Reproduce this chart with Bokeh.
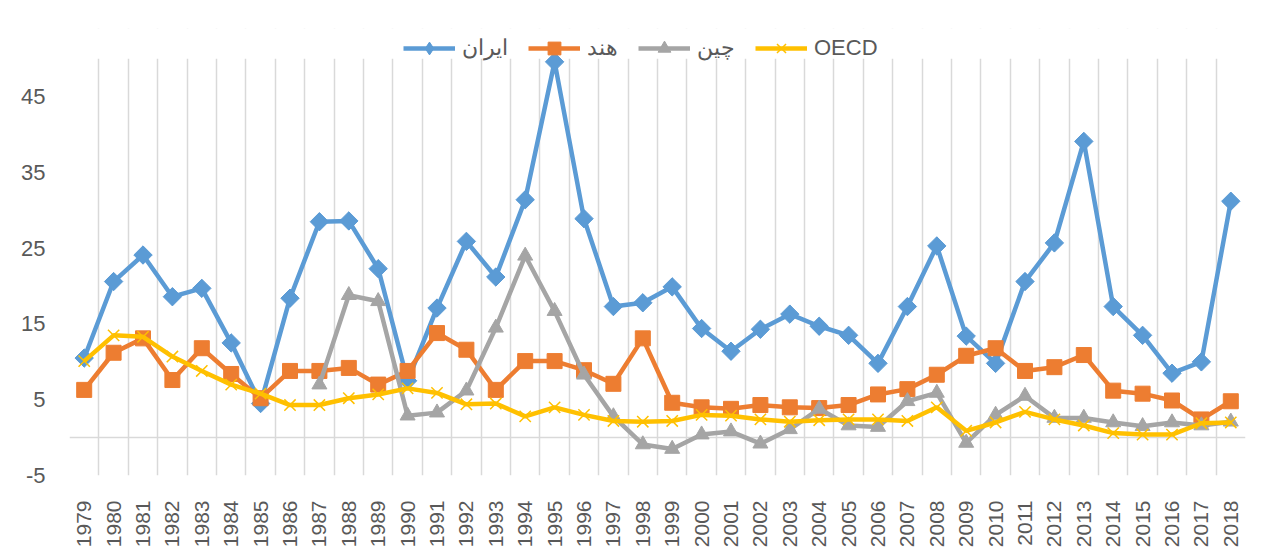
import math
from bokeh.plotting import figure
from bokeh.models import (FixedTicker, Span, Legend, LegendItem, Range1d,
                          BoxAnnotation)
from bokeh.embed import file_html
from bokeh.resources import INLINE

years = list(range(1979, 2019))
iran = [10.5, 20.6, 24.1, 18.6, 19.7, 12.5, 4.5, 18.4, 28.5, 28.6,
        22.3, 7.5, 17.1, 25.9, 21.2, 31.4, 49.6, 28.9, 17.3, 17.8,
        19.9, 14.4, 11.4, 14.3, 16.3, 14.7, 13.5, 9.8, 17.3, 25.3,
        13.4, 9.8, 20.6, 25.7, 39.1, 17.3, 13.5, 8.5, 10.0, 31.2]
india = [6.3, 11.2, 13.1, 7.6, 11.8, 8.4, 5.2, 8.8, 8.8, 9.2,
         7.0, 8.8, 13.8, 11.6, 6.3, 10.1, 10.1, 8.9, 7.1, 13.1,
         4.6, 4.0, 3.8, 4.3, 4.0, 3.9, 4.3, 5.7, 6.4, 8.3,
         10.8, 11.8, 8.8, 9.3, 10.9, 6.2, 5.8, 4.9, 2.4, 4.8]
china_years = list(range(1987, 2019))
china = [7.0, 18.8, 18.0, 2.9, 3.3, 6.2, 14.5, 24.0, 16.7, 8.3,
         2.8, -0.9, -1.5, 0.4, 0.8, -0.8, 1.1, 3.8, 1.6, 1.4,
         4.8, 5.9, -0.7, 3.0, 5.5, 2.6, 2.6, 2.0, 1.5, 2.0, 1.6, 2.1]
oecd = [10.1, 13.5, 13.3, 10.7, 8.8, 7.0, 5.8, 4.3, 4.3, 5.2,
        5.7, 6.5, 5.9, 4.4, 4.5, 2.8, 4.0, 3.0, 2.2, 2.1,
        2.2, 3.0, 2.9, 2.4, 2.1, 2.3, 2.4, 2.4, 2.2, 4.0,
        0.9, 2.0, 3.4, 2.4, 1.6, 0.6, 0.4, 0.4, 1.9, 2.0]
names = ["ایران", "هند", "چین", "OECD"]
y_ticks = [-5, 5, 15, 25, 35, 45]
y_min, y_axis_max, y_view_max = -5, 50, 54

BLUE, ORANGE, GRAY, YELLOW = "#5B9BD5", "#ED7D31", "#A5A5A5", "#FFC000"
TXT = "#595959"
GRID = "#D9D9D9"
FONT = "Liberation Sans"

p = figure(width=1272, height=550, output_backend="svg", toolbar_location=None,
           x_range=Range1d(years[0] - 0.5, years[-1] + 0.5),
           y_range=Range1d(y_min, y_view_max),
           min_border_left=69, min_border_right=27, min_border_top=28,
           min_border_bottom=72)
p.outline_line_color = None

p.xgrid.ticker = FixedTicker(ticks=[y - 0.5 for y in years] + [years[-1] + 0.5])
p.xgrid.grid_line_color = GRID
p.xgrid.grid_line_width = 1.5
p.ygrid.grid_line_color = None

# hide the grid above the plot area (legend zone)
p.add_layout(BoxAnnotation(bottom=y_axis_max, fill_color="white", fill_alpha=1,
                           line_color=None, level="underlay"))

p.xaxis.ticker = FixedTicker(ticks=years)
p.xaxis.major_label_orientation = math.pi / 2
p.xaxis.axis_line_color = None
p.xaxis.major_tick_line_color = None
p.xaxis.minor_tick_line_color = None
p.xaxis.major_label_text_color = TXT
p.xaxis.major_label_text_font = FONT
p.xaxis.major_label_text_font_size = "21px"
p.xaxis.major_label_standoff = 19

p.yaxis.ticker = FixedTicker(ticks=y_ticks)
p.yaxis.major_label_overrides = {t: str(t) for t in y_ticks}
p.yaxis.axis_line_color = None
p.yaxis.major_tick_line_color = None
p.yaxis.minor_tick_line_color = None
p.yaxis.major_label_text_color = TXT
p.yaxis.major_label_text_font = FONT
p.yaxis.major_label_text_font_size = "22px"
p.yaxis.major_label_standoff = 18

p.add_layout(Span(location=0, dimension="width", line_color=GRID,
                  line_width=1.5, level="underlay"))

lw = 4.5
l1 = p.line(years, iran, line_color=BLUE, line_width=lw)
# diamond key for the legend, fully covered by the rotated-square markers
k1 = p.scatter(years, iran, marker="diamond", size=17,
               fill_color=BLUE, line_color=BLUE)
m1 = p.scatter(years, iran, marker="square", angle=math.pi / 4, size=13,
               fill_color=BLUE, line_color=BLUE)
l2 = p.line(years, india, line_color=ORANGE, line_width=lw)
m2 = p.scatter(years, india, marker="square", size=15,
               fill_color=ORANGE, line_color=ORANGE)
l3 = p.line(china_years, china, line_color=GRAY, line_width=lw)
m3 = p.scatter(china_years, china, marker="triangle", size=15,
               fill_color=GRAY, line_color=GRAY)
l4 = p.line(years, oecd, line_color=YELLOW, line_width=lw)
m4 = p.scatter(years, oecd, marker="x", size=16, line_color=YELLOW,
               line_width=1.5)

legend = Legend(items=[LegendItem(label=names[0], renderers=[l1, k1]),
                       LegendItem(label=names[1], renderers=[l2, m2]),
                       LegendItem(label=names[2], renderers=[l3, m3]),
                       LegendItem(label=names[3], renderers=[l4, m4])],
                orientation="horizontal", location=(334, 411),
                glyph_width=52, glyph_height=32, label_standoff=7, spacing=20,
                padding=0, margin=0, border_line_color=None,
                background_fill_alpha=0, label_text_color=TXT,
                label_text_font=FONT, label_text_font_size="22px")
p.add_layout(legend, "center")

open("out.html", "w").write(file_html(p, INLINE))
